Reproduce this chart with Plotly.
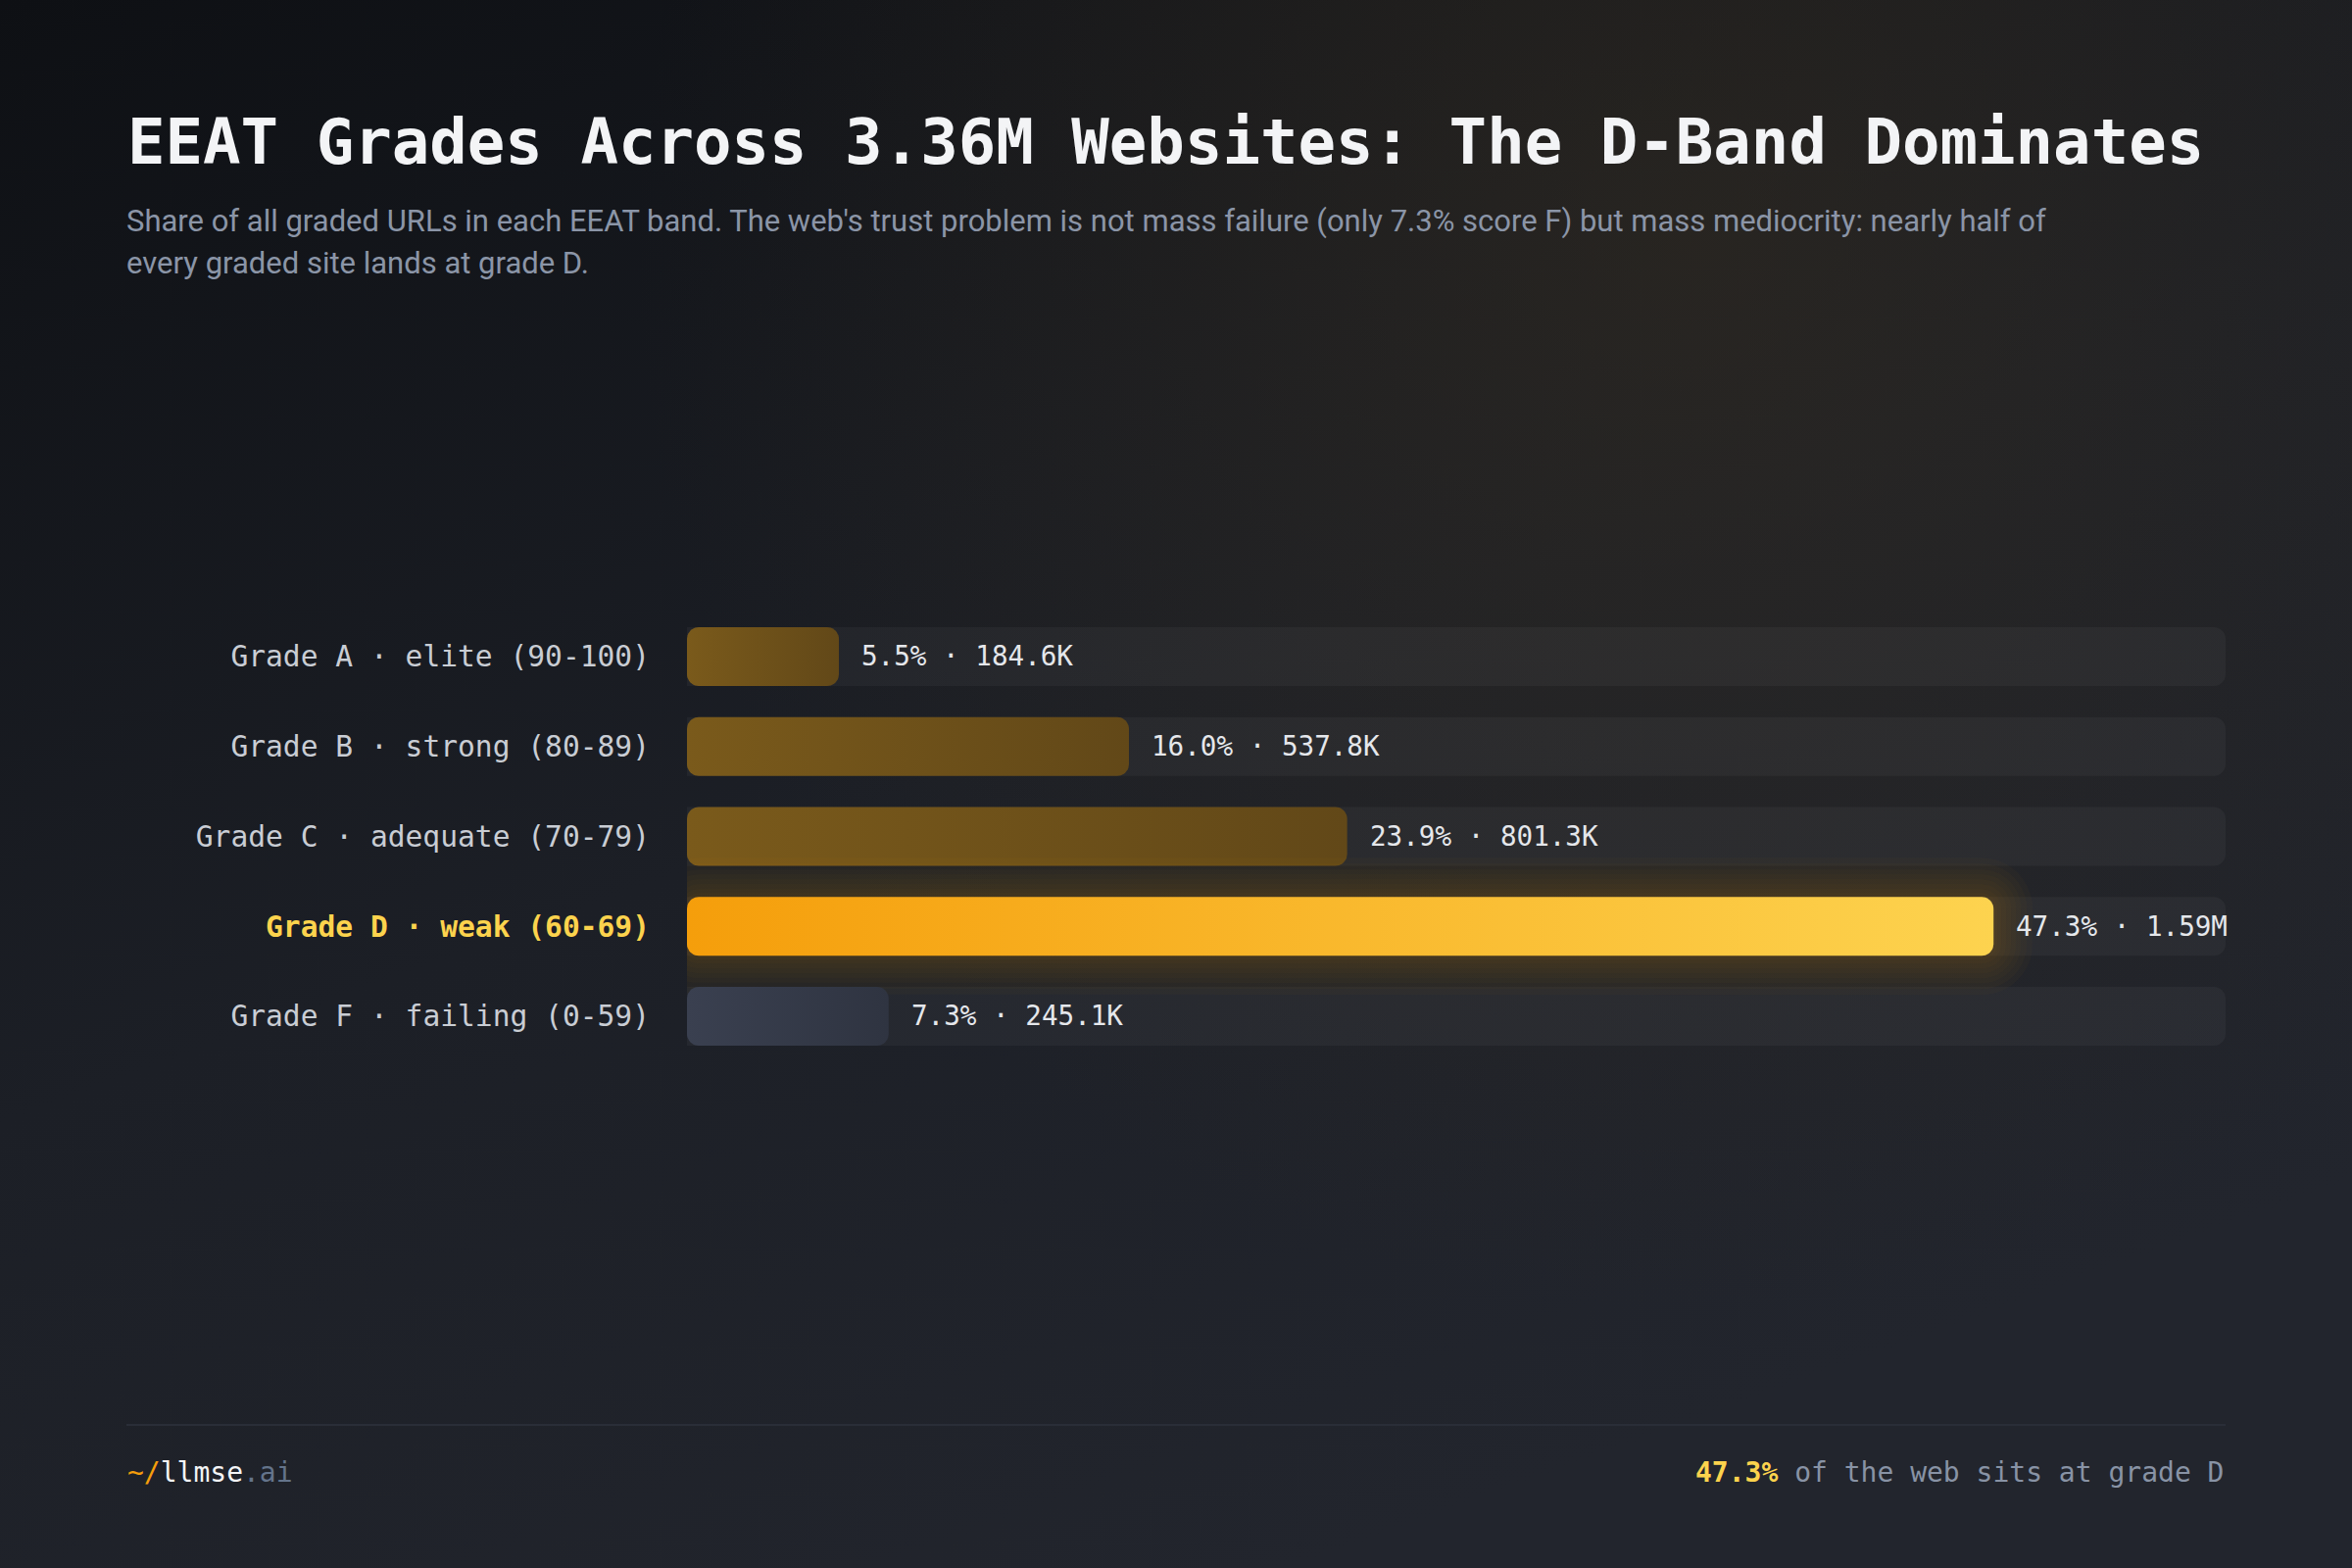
import base64
import math
import plotly.graph_objects as go

# ---------------- data ----------------
grades = ["Grade A · elite (90-100)", "Grade B · strong (80-89)", "Grade C · adequate (70-79)",
          "Grade D · weak (60-69)", "Grade F · failing (0-59)"]
shares = [5.5, 16.0, 23.9, 47.3, 7.3]
count_labels = ["184.6K", "537.8K", "801.3K", "1.59M", "245.1K"]
highlight = "Grade D · weak (60-69)"
bar_colors = [("#7a5a1b", "#624818"), ("#7a5a1b", "#624818"), ("#7a5a1b", "#624818"),
              ("#f59e0b", "#fdd34f"), ("#3a4050", "#2f3441")]

W, H = 2400, 1600
XMAX = 55.7
X0_PX, X1_PX = 701, 2271
ROW_PX = 91.75
TOP_PX = 670 - ROW_PX / 2
n = len(grades)
BOT_PX = TOP_PX + n * ROW_PX
px_x = (X1_PX - X0_PX) / XMAX
px_y = ROW_PX
BAR_H = 60 / ROW_PX

FONT_MONO = "DejaVu Sans Mono"
FONT_SANS = "Roboto"

# ---------------- background (decorative svg) ----------------
svg = f"""<svg xmlns='http://www.w3.org/2000/svg' width='{W}' height='{H}'>
<defs>
<linearGradient id='g' x1='0' y1='0' x2='0.55' y2='1'>
<stop offset='0' stop-color='#0e1014'/>
<stop offset='0.55' stop-color='#1c1f26'/>
<stop offset='1' stop-color='#22252d'/>
</linearGradient>
<radialGradient id='w' cx='0.72' cy='0.16' r='0.45' gradientTransform='translate(0.72 0.16) scale(1 1.5) translate(-0.72 -0.16)'>
<stop offset='0' stop-color='#3a3020' stop-opacity='0.45'/>
<stop offset='1' stop-color='#3a3020' stop-opacity='0'/>
</radialGradient>
</defs>
<rect width='100%' height='100%' fill='url(#g)'/>
<rect width='100%' height='100%' fill='url(#w)'/>
</svg>"""
bg_uri = "data:image/svg+xml;base64," + base64.b64encode(svg.encode()).decode()


def rrect(x0, x1, yc, hh, rx, ry, k=10):
    xs, ys = [], []
    corners = [((x1 - rx, yc - hh + ry), 270), ((x1 - rx, yc + hh - ry), 0),
               ((x0 + rx, yc + hh - ry), 90), ((x0 + rx, yc - hh + ry), 180)]
    for (cx, cy), a0 in corners:
        for i in range(k + 1):
            a = math.radians(a0 + 90 * i / k)
            xs.append(cx + rx * math.cos(a))
            ys.append(cy + ry * math.sin(a))
    xs.append(xs[0]); ys.append(ys[0])
    return xs, ys


fig = go.Figure()

ypos = list(range(n))

# tracks
fig.add_trace(go.Bar(x=[XMAX] * n, y=ypos, orientation="h", width=BAR_H,
                     marker=dict(color="rgba(255,255,255,0.038)", cornerradius=12, line=dict(width=0)),
                     hoverinfo="skip", showlegend=False))

R = 12
for i, (g, v) in enumerate(zip(grades, shares)):
    if g == highlight:
        for e in [40, 34, 28, 23, 18, 13, 8, 4]:
            ex = e / px_x
            ey = e / px_y
            gx, gy = rrect(-ex, v + ex, i, BAR_H / 2 + ey, (R + e) / px_x, (R + e) / px_y)
            fig.add_trace(go.Scatter(x=gx, y=gy, mode="lines", fill="toself",
                                     fillcolor="rgba(245,170,20,0.024)", line=dict(width=0),
                                     hoverinfo="skip", showlegend=False))
    bx, by = rrect(0, v, i, BAR_H / 2, R / px_x, R / px_y)
    c0, c1 = bar_colors[i]
    fig.add_trace(go.Scatter(x=bx, y=by, mode="lines", fill="toself",
                             fillgradient=dict(type="horizontal", colorscale=[[0, c0], [1, c1]]),
                             line=dict(width=0), hoverinfo="skip", showlegend=False))
    fig.add_annotation(x=v, y=i, xref="x", yref="y", text=f"{v:.1f}% · {count_labels[i]}",
                       xanchor="left", yanchor="middle", xshift=21, showarrow=False,
                       font=dict(family=FONT_MONO, size=27.6, color="#e5e7eb"))

ticktext = []
for g in grades:
    if g == highlight:
        ticktext.append(f"<span style='color:#fcd34d'><b>{g}</b></span>")
    else:
        ticktext.append(g)

fig.update_layout(
    width=W, height=H,
    margin=dict(l=0, r=0, t=0, b=0, pad=0),
    paper_bgcolor="#16181d", plot_bgcolor="rgba(0,0,0,0)",
    barmode="overlay",
    xaxis=dict(domain=[X0_PX / W, X1_PX / W], range=[0, XMAX], visible=False, fixedrange=True),
    yaxis=dict(domain=[1 - BOT_PX / H, 1 - TOP_PX / H], range=[n - 0.5, -0.5],
               tickvals=ypos, ticktext=ticktext, showgrid=False, zeroline=False, showline=False,
               ticks="", ticklabelstandoff=37, automargin=False,
               tickfont=dict(family=FONT_MONO, size=29.6, color="#c9cdd4")),
    images=[dict(source=bg_uri, xref="paper", yref="paper", x=0, y=1, sizex=1, sizey=1,
                 xanchor="left", yanchor="top", sizing="stretch", layer="below")],
    showlegend=False,
)

# title & subtitle
fig.add_annotation(x=128 / W, y=1 - 145 / H, xref="paper", yref="paper", xanchor="left", yanchor="middle",
                   text="<b>EEAT Grades Across 3.36M Websites: The D-Band Dominates</b>", showarrow=False,
                   font=dict(family=FONT_MONO, size=64, color="#f3f4f6"))
sub1 = "Share of all graded URLs in each EEAT band. The web's trust problem is not mass failure (only 7.3% score F) but mass mediocrity: nearly half of"
sub2 = "every graded site lands at grade D."
for txt, yy in [(sub1, 225), (sub2, 269)]:
    fig.add_annotation(x=127 / W, y=1 - yy / H, xref="paper", yref="paper", xanchor="left", yanchor="middle",
                       text=txt, showarrow=False, font=dict(family=FONT_SANS, size=31, color="#8b95a7"))

# footer
fig.add_shape(type="line", xref="paper", yref="paper", x0=129 / W, x1=2271 / W,
              y0=1 - 1454 / H, y1=1 - 1454 / H, line=dict(color="#2a2e38", width=2))
fig.add_annotation(x=128 / W, y=1 - 1502 / H, xref="paper", yref="paper", xanchor="left", yanchor="middle",
                   text="<span style='color:#f59e0b'>~/</span><span style='color:#f3f4f6'>llmse</span><span style='color:#64748b'>.ai</span>",
                   showarrow=False, font=dict(family=FONT_MONO, size=28))
d_share = shares[grades.index(highlight)]
fig.add_annotation(x=2271 / W, y=1 - 1502 / H, xref="paper", yref="paper", xanchor="right", yanchor="middle",
                   text=f"<span style='color:#fcd34d'><b>{d_share:.1f}%</b></span> of the web sits at grade D",
                   showarrow=False, font=dict(family=FONT_MONO, size=28, color="#8893a5"))

fig.write_html("out.html")
